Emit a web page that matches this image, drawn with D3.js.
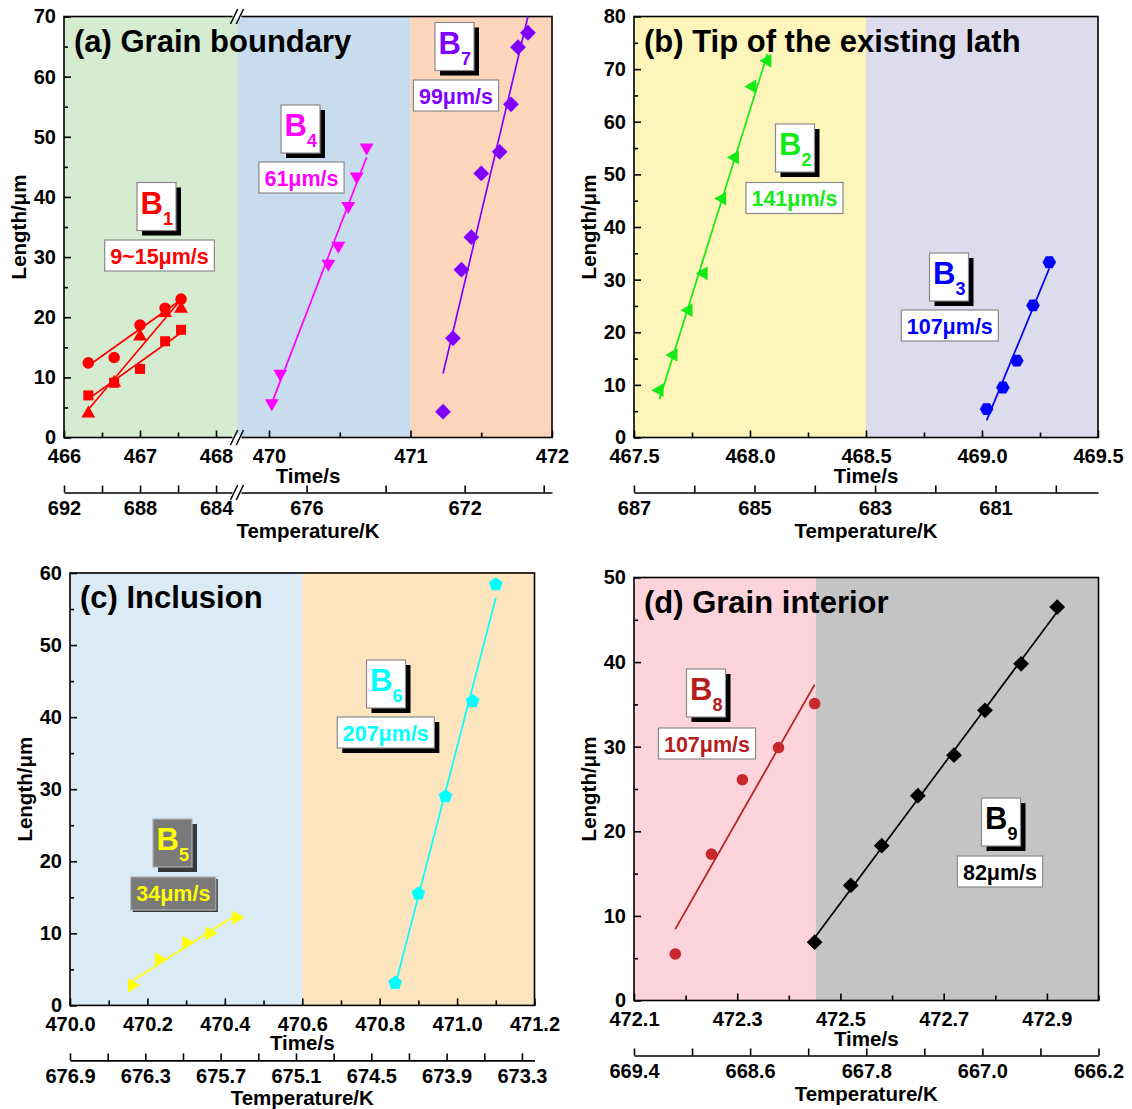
<!DOCTYPE html>
<html>
<head>
<meta charset="utf-8">
<script src="https://cdn.jsdelivr.net/npm/d3@7"></script>
<style>
  body { margin: 0; background: #fff; }
  svg text { font-family: "Liberation Sans", Arial, Helvetica, sans-serif; font-weight: bold; }
</style>
</head>
<body>
<svg id="fig" width="1132" height="1109"></svg>
<script>
// ---------------- measured tracks: time (s) and length (μm) ----------------
// (a) grain boundary
const b1CircleTime = [466.32, 466.66, 467.00, 467.33, 467.54];
const b1CircleLen  = [12.4, 13.3, 18.7, 21.5, 23.0];
const b1SquareTime = [466.32, 466.66, 467.00, 467.33, 467.54];
const b1SquareLen  = [7.0, 9.1, 11.4, 16.0, 17.9];
const b1TriTime    = [466.32, 466.66, 467.00, 467.33, 467.54];
const b1TriLen     = [4.0, 9.1, 16.8, 20.7, 21.4];
const b4Time = [470.02, 470.08, 470.42, 470.49, 470.56, 470.62, 470.69];
const b4Len  = [5.7, 10.6, 28.9, 31.9, 38.5, 43.4, 48.2];
const b7Time = [471.23, 471.30, 471.36, 471.43, 471.50, 471.63, 471.71, 471.76, 471.83];
const b7Len  = [4.3, 16.5, 27.9, 33.3, 43.9, 47.5, 55.4, 64.9, 67.3];
// (b) tip of the existing lath
const b2Time = [467.61, 467.67, 467.735, 467.80, 467.88, 467.935, 468.01, 468.075];
const b2Len  = [9.0, 15.7, 24.2, 31.2, 45.4, 53.2, 66.7, 71.6];
const b3Time = [469.02, 469.09, 469.15, 469.22, 469.29];
const b3Len  = [5.4, 9.5, 14.6, 25.1, 33.3];
// (c) inclusion
const b5Time = [470.16, 470.23, 470.30, 470.36, 470.43];
const b5Len  = [2.8, 6.4, 8.7, 10.0, 12.2];
const b6Time = [470.84, 470.90, 470.97, 471.04, 471.10];
const b6Len  = [3.1, 15.5, 29.0, 42.2, 58.4];
// (d) grain interior
const b8Time = [472.18, 472.25, 472.31, 472.38, 472.45];
const b8Len  = [5.5, 17.3, 26.1, 29.9, 35.1];
const b9Time = [472.45, 472.52, 472.58, 472.65, 472.72, 472.78, 472.85, 472.92];
const b9Len  = [6.9, 13.6, 18.3, 24.2, 29.0, 34.3, 39.8, 46.5];

// growth rates (μm/s) – slope of each fitted line
const b1Rates = [9, 9, 15];
const b4Rate = 61, b7Rate = 99, b2Rate = 141, b3Rate = 107;
const b5Rate = 34, b6Rate = 207, b8Rate = 107, b9Rate = 82;

// ---------------- axis ticks ----------------
const aTimeTicksL = [466, 466.5, 467, 467.5, 468];
const aTimeLabelsL = [466, 467, 468];
const aTimeTicksR = [470, 470.5, 471, 471.5, 472];
const aTimeLabelsR = [470, 471, 472];
const aTempTicksL = [692, 690, 688, 686, 684];
const aTempLabelsL = [692, 688, 684];
const aTempTicksR = [676, 674, 672, 670];
const aTempLabelsR = [676, 672];

const bTimeTicks = [467.5, 467.75, 468, 468.25, 468.5, 468.75, 469, 469.25, 469.5];
const bTimeLabels = [467.5, 468.0, 468.5, 469.0, 469.5];
const bTempTicks = [687, 686, 685, 684, 683, 682, 681, 680];
const bTempLabels = [687, 685, 683, 681];

const cTimeTicks = [470.0, 470.1, 470.2, 470.3, 470.4, 470.5, 470.6, 470.7, 470.8, 470.9, 471.0, 471.1, 471.2];
const cTimeLabels = [470.0, 470.2, 470.4, 470.6, 470.8, 471.0, 471.2];
const cTempTicks = [676.9, 676.6, 676.3, 676.0, 675.7, 675.4, 675.1, 674.8, 674.5, 674.2, 673.9, 673.6, 673.3];
const cTempLabels = [676.9, 676.3, 675.7, 675.1, 674.5, 673.9, 673.3];

const dTimeTicks = [472.1, 472.2, 472.3, 472.4, 472.5, 472.6, 472.7, 472.8, 472.9, 473.0];
const dTimeLabels = [472.1, 472.3, 472.5, 472.7, 472.9];
const dTempTicks = [669.4, 669.0, 668.6, 668.2, 667.8, 667.4, 667.0, 666.6, 666.2];
const dTempLabels = [669.4, 668.6, 667.8, 667.0, 666.2];

const aLenTicks = [0, 10, 20, 30, 40, 50, 60, 70];
const bLenTicks = [0, 10, 20, 30, 40, 50, 60, 70, 80];
const cLenTicks = [0, 10, 20, 30, 40, 50, 60];
const dLenTicks = [0, 10, 20, 30, 40, 50];

// ---------------- drawing helpers ----------------
const svg = d3.select("#fig");
const has = (arr, v) => arr.some(a => Math.abs(a - v) < 1e-6);
const fmt1 = d3.format(".1f"), fmt0 = d3.format("d");

function polygonPath(n, r, rot) {
  const pts = d3.range(n).map(i => {
    const a = rot + i * 2 * Math.PI / n;
    return [r * Math.cos(a), r * Math.sin(a)];
  });
  return "M" + pts.map(p => p[0].toFixed(2) + "," + p[1].toFixed(2)).join("L") + "Z";
}
const markers = {
  circle: d3.symbol(d3.symbolCircle, Math.PI * 5.8 * 5.8)(),
  square: "M-5,-5H5V5H-5Z",
  triUp: polygonPath(3, 8, -Math.PI / 2),
  triDown: polygonPath(3, 8, Math.PI / 2),
  triLeft: polygonPath(3, 8, Math.PI),
  triRight: polygonPath(3, 8, 0),
  diamond: polygonPath(4, 7.9, -Math.PI / 2),
  hexagon: polygonPath(6, 6.8, 0),
  pentagon: polygonPath(5, 7.2, -Math.PI / 2)
};

function styleAxis(sel, size) {
  sel.attr("font-size", null).attr("font-family", null);
  sel.selectAll(".tick line").attr("stroke", "#000").attr("stroke-width", 1.6);
  sel.selectAll(".domain").attr("stroke", "#000").attr("stroke-width", 1.6);
  sel.selectAll("text").attr("fill", "#000").style("font-size", size + "px");
}

function breakMark(g, cx, cy) {
  g.append("rect").attr("x", cx - 4.5).attr("y", cy - 2.5).attr("width", 9).attr("height", 5).attr("fill", "#fff");
  [-2.9, 2.9].forEach(dx => {
    g.append("line")
      .attr("x1", cx + dx - 3.6).attr("y1", cy + 7.5)
      .attr("x2", cx + dx + 3.6).attr("y2", cy - 7.5)
      .attr("stroke", "#000").attr("stroke-width", 1.5);
  });
}

function tag(g, t) {
  // name box with drop shadow
  const bw = 39, bh = 48;
  const gray = t.style === "gray";
  g.append("rect").attr("x", t.bx + 5).attr("y", t.by + 5).attr("width", bw).attr("height", bh).attr("fill", gray ? "#3a3a3a" : "#000");
  g.append("rect").attr("x", t.bx).attr("y", t.by).attr("width", bw).attr("height", bh)
    .attr("fill", gray ? "#7a7a7a" : "#fff").attr("stroke", gray ? "#b0b0b0" : "#8a8a8a").attr("stroke-width", 1.2);
  const nt = g.append("text").attr("x", t.bx + 3.5).attr("y", t.by + 31).attr("fill", t.color);
  nt.append("tspan").style("font-size", "31px").text("B");
  nt.append("tspan").style("font-size", "18px").attr("dx", 0).attr("dy", 11).text(t.sub);

  // rate box
  const rt = g.append("text").attr("x", t.rcx).attr("y", t.ry + 23.5).attr("text-anchor", "middle")
    .attr("fill", t.color).style("font-size", "21.5px").text(t.rate);
  const w = rt.node().getComputedTextLength() + 11;
  const rh = gray ? 33 : 31;
  const box = g.insert("g", function () { return rt.node(); });
  if (t.rateShadow || gray) {
    box.append("rect").attr("x", t.rcx - w / 2 + (gray ? 2 : 5)).attr("y", t.ry + (gray ? 2 : 5)).attr("width", w).attr("height", rh)
      .attr("fill", gray ? "#3a3a3a" : "#000");
  }
  box.append("rect").attr("x", t.rcx - w / 2).attr("y", t.ry).attr("width", w).attr("height", rh)
    .attr("fill", gray ? "#7a7a7a" : "#fff").attr("stroke", gray ? "#b0b0b0" : "#8a8a8a").attr("stroke-width", 1.2);
}

let clipId = 0;
function drawPanel(p) {
  const g = svg.append("g");
  const y = d3.scaleLinear().domain([0, p.yMax]).range([p.bottom, p.top]);
  const segs = p.segments.map(s => Object.assign({}, s, {
    x: d3.scaleLinear().domain(s.time).range(s.px),
    tx: d3.scaleLinear().domain(s.temp).range(s.px)
  }));
  const xOf = t => {
    const s = segs.find(s => t >= s.time[0] - 1e-9 && t <= s.time[1] + 1e-9) || segs[segs.length - 1];
    return s.x(t);
  };

  // background regions
  p.bands.forEach(b => {
    g.append("rect").attr("x", xOf(b.t0)).attr("y", p.top)
      .attr("width", xOf(b.t1) - xOf(b.t0)).attr("height", p.bottom - p.top).attr("fill", b.color);
  });

  // axes: length (left), time (bottom), temperature (second bottom)
  const yMinor = d3.range(5, p.yMax, 10);
  const ya = g.append("g").attr("transform", `translate(${p.left},0)`)
    .call(d3.axisLeft(y).tickValues(p.yTicks).tickSize(-7).tickPadding(8).tickFormat(fmt0));
  ya.select(".domain").remove(); styleAxis(ya, 20);
  const ym = g.append("g").attr("transform", `translate(${p.left},0)`)
    .call(d3.axisLeft(y).tickValues(yMinor).tickSize(-4).tickFormat(""));
  ym.select(".domain").remove(); styleAxis(ym, 20);

  segs.forEach(s => {
    const xa = g.append("g").attr("transform", `translate(0,${p.bottom})`)
      .call(d3.axisBottom(s.x).tickValues(s.timeTicks).tickSize(-7).tickPadding(11)
        .tickFormat(d => has(s.timeLabels, d) ? s.timeFmt(d) : ""));
    xa.select(".domain").remove(); styleAxis(xa, 20);
    xa.selectAll(".tick").filter(d => !has(s.timeLabels, d)).select("line").attr("y2", -5);
    const ta = g.append("g").attr("transform", `translate(0,${p.bottom + 55})`)
      .call(d3.axisBottom(s.tx).tickValues(s.tempTicks).tickSizeInner(-7).tickSizeOuter(0).tickPadding(8)
        .tickFormat(d => has(s.tempLabels, d) ? s.tempFmt(d) : ""));
    styleAxis(ta, 20);
  });

  // frame
  g.append("rect").attr("x", p.left).attr("y", p.top).attr("width", p.right - p.left).attr("height", p.bottom - p.top)
    .attr("fill", "none").attr("stroke", "#000").attr("stroke-width", 1.6);
  if (p.breakAt) {
    const bx = segs[0].px[1];
    [p.top, p.bottom, p.bottom + 55].forEach(yy => breakMark(g, bx, yy));
  }

  // axis titles
  const cx = (p.left + p.right) / 2;
  g.append("text").attr("x", cx).attr("y", p.bottom + 45).attr("text-anchor", "middle").style("font-size", "20.5px").text("Time/s");
  g.append("text").attr("x", cx).attr("y", p.bottom + 100).attr("text-anchor", "middle").style("font-size", "20.5px").text("Temperature/K");
  g.append("text").attr("transform", `translate(${p.left - 45},${(p.top + p.bottom) / 2}) rotate(-90)`)
    .attr("text-anchor", "middle").attr("dy", "0.36em").style("font-size", "20.5px").text("Length/μm");
  g.append("text").attr("x", p.left + 10).attr("y", p.top + 35).style("font-size", "31px").text(p.title);

  // fitted lines and points
  const id = "clip" + (clipId++);
  g.append("clipPath").attr("id", id).append("rect")
    .attr("x", p.left).attr("y", p.top).attr("width", p.right - p.left).attr("height", p.bottom - p.top);
  const lines = g.append("g").attr("clip-path", `url(#${id})`);
  p.series.forEach(s => {
    const tm = d3.mean(s.time), lm = d3.mean(s.len);
    const fit = t => lm + s.rate * (t - tm);
    const t0 = d3.min(s.time), t1 = d3.max(s.time);
    lines.append("line").attr("x1", xOf(t0)).attr("y1", y(fit(t0))).attr("x2", xOf(t1)).attr("y2", y(fit(t1)))
      .attr("stroke", s.lineColor || s.color).attr("stroke-width", 1.7);
  });
  p.series.forEach(s => {
    g.append("g").selectAll("path").data(d3.zip(s.time, s.len)).join("path")
      .attr("d", markers[s.marker])
      .attr("transform", d => `translate(${xOf(d[0])},${y(d[1])})`)
      .attr("fill", s.color);
  });

  p.tags.forEach(t => tag(g, t));
}

// ---------------- panels ----------------
drawPanel({
  title: "(a) Grain boundary", left: 64, right: 552, top: 16.5, bottom: 437.5, yMax: 70, yTicks: aLenTicks, breakAt: true,
  segments: [
    { time: [466, 468.276], px: [64, 237], temp: [692, 682.9], timeTicks: aTimeTicksL, timeLabels: aTimeLabelsL, timeFmt: fmt0,
      tempTicks: aTempTicksL, tempLabels: aTempLabelsL, tempFmt: fmt0 },
    { time: [469.774, 472], px: [237, 552], temp: [677.76, 669.79], timeTicks: aTimeTicksR, timeLabels: aTimeLabelsR, timeFmt: fmt0,
      tempTicks: aTempTicksR, tempLabels: aTempLabelsR, tempFmt: fmt0 }
  ],
  bands: [
    { t0: 466, t1: 468.276, color: "#d5ecd1" },
    { t0: 469.774, t1: 471, color: "#c9dcee" },
    { t0: 471, t1: 472, color: "#fdd5bb" }
  ],
  series: [
    { time: b1CircleTime, len: b1CircleLen, rate: b1Rates[0], marker: "circle", color: "#ff0000" },
    { time: b1SquareTime, len: b1SquareLen, rate: b1Rates[1], marker: "square", color: "#ff0000" },
    { time: b1TriTime, len: b1TriLen, rate: b1Rates[2], marker: "triUp", color: "#ff0000" },
    { time: b4Time, len: b4Len, rate: b4Rate, marker: "triDown", color: "#ff00ff" },
    { time: b7Time, len: b7Len, rate: b7Rate, marker: "diamond", color: "#7f00ff" }
  ],
  tags: [
    { sub: "1", color: "#ff0000", bx: 137, by: 182.5, rcx: 159.5, ry: 240, rate: `${d3.min(b1Rates)}~${d3.max(b1Rates)}μm/s` },
    { sub: "4", color: "#ff00ff", bx: 281, by: 105, rcx: 301.5, ry: 162, rate: `${b4Rate}μm/s` },
    { sub: "7", color: "#7f00ff", bx: 435, by: 22.5, rcx: 456, ry: 80, rate: `${b7Rate}μm/s` }
  ]
});

drawPanel({
  title: "(b) Tip of the existing lath", left: 634, right: 1098, top: 16.5, bottom: 437.5, yMax: 80, yTicks: bLenTicks,
  segments: [
    { time: [467.5, 469.5], px: [634, 1098], temp: [687, 679.3], timeTicks: bTimeTicks, timeLabels: bTimeLabels, timeFmt: fmt1,
      tempTicks: bTempTicks, tempLabels: bTempLabels, tempFmt: fmt0 }
  ],
  bands: [
    { t0: 467.5, t1: 468.5, color: "#fdf5b9" },
    { t0: 468.5, t1: 469.5, color: "#dcdced" }
  ],
  series: [
    { time: b2Time, len: b2Len, rate: b2Rate, marker: "triLeft", color: "#14ea14" },
    { time: b3Time, len: b3Len, rate: b3Rate, marker: "hexagon", color: "#0000ff" }
  ],
  tags: [
    { sub: "2", color: "#14ea14", bx: 775.5, by: 124, rcx: 794.5, ry: 182.5, rate: `${b2Rate}μm/s` },
    { sub: "3", color: "#0000ff", bx: 929.5, by: 253, rcx: 949.8, ry: 310, rate: `${b3Rate}μm/s` }
  ]
});

drawPanel({
  title: "(c) Inclusion", left: 70, right: 534.5, top: 573, bottom: 1005.4, yMax: 60, yTicks: cLenTicks,
  segments: [
    { time: [470.0, 471.2], px: [70, 534.5], temp: [676.9, 673.2], timeTicks: cTimeTicks, timeLabels: cTimeLabels, timeFmt: fmt1,
      tempTicks: cTempTicks, tempLabels: cTempLabels, tempFmt: fmt1 }
  ],
  bands: [
    { t0: 470.0, t1: 470.6, color: "#dbebf6" },
    { t0: 470.6, t1: 471.2, color: "#fce4be" }
  ],
  series: [
    { time: b5Time, len: b5Len, rate: b5Rate, marker: "triRight", color: "#ffff00" },
    { time: b6Time, len: b6Len, rate: b6Rate, marker: "pentagon", color: "#00ffff" }
  ],
  tags: [
    { sub: "5", color: "#ffff00", bx: 153, by: 819, rcx: 173.3, ry: 877, rate: `${b5Rate}μm/s`, style: "gray" },
    { sub: "6", color: "#00ffff", bx: 366.5, by: 660, rcx: 385.8, ry: 717, rate: `${b6Rate}μm/s`, rateShadow: true }
  ]
});

drawPanel({
  title: "(d) Grain interior", left: 634, right: 1098.5, top: 577.5, bottom: 1000.5, yMax: 50, yTicks: dLenTicks,
  segments: [
    { time: [472.1, 473.0], px: [634, 1098.5], temp: [669.4, 666.2], timeTicks: dTimeTicks, timeLabels: dTimeLabels, timeFmt: fmt1,
      tempTicks: dTempTicks, tempLabels: dTempLabels, tempFmt: fmt1 }
  ],
  bands: [
    { t0: 472.1, t1: 472.452, color: "#fdd4dc" },
    { t0: 472.452, t1: 473.0, color: "#c4c4c4" }
  ],
  series: [
    { time: b8Time, len: b8Len, rate: b8Rate, marker: "circle", color: "#c8282c", lineColor: "#b71c1c" },
    { time: b9Time, len: b9Len, rate: b9Rate, marker: "diamond", color: "#000000" }
  ],
  tags: [
    { sub: "8", color: "#b71c1c", bx: 686.5, by: 669, rcx: 707, ry: 728, rate: `${b8Rate}μm/s` },
    { sub: "9", color: "#000000", bx: 981.5, by: 798, rcx: 1000, ry: 856, rate: `${b9Rate}μm/s` }
  ]
});
</script>
</body>
</html>
